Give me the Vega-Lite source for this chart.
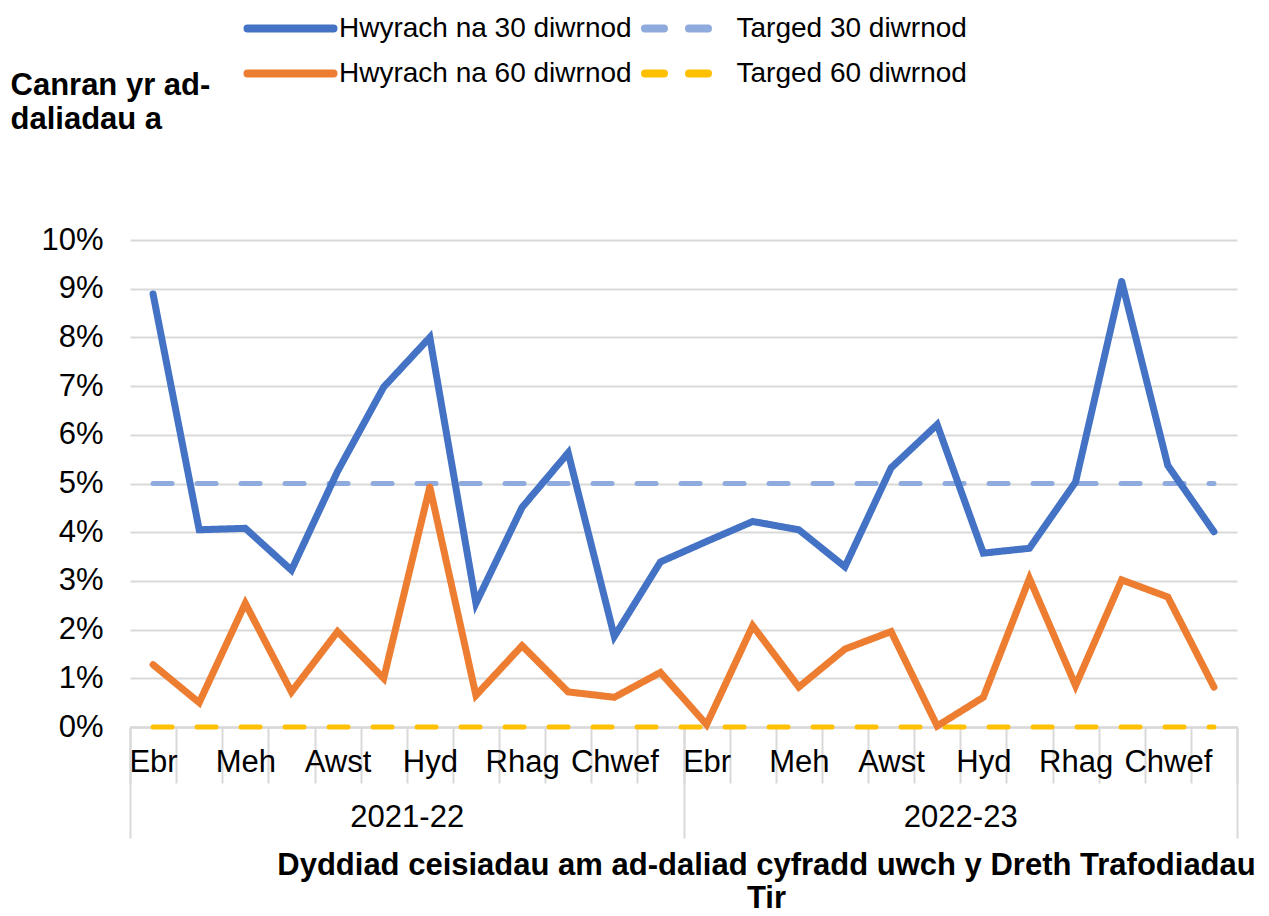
{
"$schema":"https://vega.github.io/schema/vega-lite/v6.json",
"width":1107,"height":487,
"autosize":{"type":"none"},
"padding":{"left":130,"top":240,"right":32,"bottom":189},
"background":"white",
"config":{"font":"Liberation Sans","view":{"stroke":null}},
"data":{"values":[
{"m":"2021-04","yr":"2021-22","s":"Hwyrach na 30 diwrnod","v":8.89},{"m":"2021-04","yr":"2021-22","s":"Hwyrach na 60 diwrnod","v":1.28},{"m":"2021-04","yr":"2021-22","s":"Targed 30 diwrnod","v":5},{"m":"2021-04","yr":"2021-22","s":"Targed 60 diwrnod","v":0},
{"m":"2021-05","yr":"2021-22","s":"Hwyrach na 30 diwrnod","v":4.05},{"m":"2021-05","yr":"2021-22","s":"Hwyrach na 60 diwrnod","v":0.5},{"m":"2021-05","yr":"2021-22","s":"Targed 30 diwrnod","v":5},{"m":"2021-05","yr":"2021-22","s":"Targed 60 diwrnod","v":0},
{"m":"2021-06","yr":"2021-22","s":"Hwyrach na 30 diwrnod","v":4.08},{"m":"2021-06","yr":"2021-22","s":"Hwyrach na 60 diwrnod","v":2.54},{"m":"2021-06","yr":"2021-22","s":"Targed 30 diwrnod","v":5},{"m":"2021-06","yr":"2021-22","s":"Targed 60 diwrnod","v":0},
{"m":"2021-07","yr":"2021-22","s":"Hwyrach na 30 diwrnod","v":3.22},{"m":"2021-07","yr":"2021-22","s":"Hwyrach na 60 diwrnod","v":0.72},{"m":"2021-07","yr":"2021-22","s":"Targed 30 diwrnod","v":5},{"m":"2021-07","yr":"2021-22","s":"Targed 60 diwrnod","v":0},
{"m":"2021-08","yr":"2021-22","s":"Hwyrach na 30 diwrnod","v":5.25},{"m":"2021-08","yr":"2021-22","s":"Hwyrach na 60 diwrnod","v":1.96},{"m":"2021-08","yr":"2021-22","s":"Targed 30 diwrnod","v":5},{"m":"2021-08","yr":"2021-22","s":"Targed 60 diwrnod","v":0},
{"m":"2021-09","yr":"2021-22","s":"Hwyrach na 30 diwrnod","v":6.98},{"m":"2021-09","yr":"2021-22","s":"Hwyrach na 60 diwrnod","v":1.0},{"m":"2021-09","yr":"2021-22","s":"Targed 30 diwrnod","v":5},{"m":"2021-09","yr":"2021-22","s":"Targed 60 diwrnod","v":0},
{"m":"2021-10","yr":"2021-22","s":"Hwyrach na 30 diwrnod","v":8.0},{"m":"2021-10","yr":"2021-22","s":"Hwyrach na 60 diwrnod","v":4.93},{"m":"2021-10","yr":"2021-22","s":"Targed 30 diwrnod","v":5},{"m":"2021-10","yr":"2021-22","s":"Targed 60 diwrnod","v":0},
{"m":"2021-11","yr":"2021-22","s":"Hwyrach na 30 diwrnod","v":2.54},{"m":"2021-11","yr":"2021-22","s":"Hwyrach na 60 diwrnod","v":0.65},{"m":"2021-11","yr":"2021-22","s":"Targed 30 diwrnod","v":5},{"m":"2021-11","yr":"2021-22","s":"Targed 60 diwrnod","v":0},
{"m":"2021-12","yr":"2021-22","s":"Hwyrach na 30 diwrnod","v":4.51},{"m":"2021-12","yr":"2021-22","s":"Hwyrach na 60 diwrnod","v":1.67},{"m":"2021-12","yr":"2021-22","s":"Targed 30 diwrnod","v":5},{"m":"2021-12","yr":"2021-22","s":"Targed 60 diwrnod","v":0},
{"m":"2022-01","yr":"2021-22","s":"Hwyrach na 30 diwrnod","v":5.63},{"m":"2022-01","yr":"2021-22","s":"Hwyrach na 60 diwrnod","v":0.72},{"m":"2022-01","yr":"2021-22","s":"Targed 30 diwrnod","v":5},{"m":"2022-01","yr":"2021-22","s":"Targed 60 diwrnod","v":0},
{"m":"2022-02","yr":"2021-22","s":"Hwyrach na 30 diwrnod","v":1.86},{"m":"2022-02","yr":"2021-22","s":"Hwyrach na 60 diwrnod","v":0.61},{"m":"2022-02","yr":"2021-22","s":"Targed 30 diwrnod","v":5},{"m":"2022-02","yr":"2021-22","s":"Targed 60 diwrnod","v":0},
{"m":"2022-03","yr":"2021-22","s":"Hwyrach na 30 diwrnod","v":3.39},{"m":"2022-03","yr":"2021-22","s":"Hwyrach na 60 diwrnod","v":1.12},{"m":"2022-03","yr":"2021-22","s":"Targed 30 diwrnod","v":5},{"m":"2022-03","yr":"2021-22","s":"Targed 60 diwrnod","v":0},
{"m":"2022-04","yr":"2022-23","s":"Hwyrach na 30 diwrnod","v":3.81},{"m":"2022-04","yr":"2022-23","s":"Hwyrach na 60 diwrnod","v":0.05},{"m":"2022-04","yr":"2022-23","s":"Targed 30 diwrnod","v":5},{"m":"2022-04","yr":"2022-23","s":"Targed 60 diwrnod","v":0},
{"m":"2022-05","yr":"2022-23","s":"Hwyrach na 30 diwrnod","v":4.22},{"m":"2022-05","yr":"2022-23","s":"Hwyrach na 60 diwrnod","v":2.08},{"m":"2022-05","yr":"2022-23","s":"Targed 30 diwrnod","v":5},{"m":"2022-05","yr":"2022-23","s":"Targed 60 diwrnod","v":0},
{"m":"2022-06","yr":"2022-23","s":"Hwyrach na 30 diwrnod","v":4.05},{"m":"2022-06","yr":"2022-23","s":"Hwyrach na 60 diwrnod","v":0.82},{"m":"2022-06","yr":"2022-23","s":"Targed 30 diwrnod","v":5},{"m":"2022-06","yr":"2022-23","s":"Targed 60 diwrnod","v":0},
{"m":"2022-07","yr":"2022-23","s":"Hwyrach na 30 diwrnod","v":3.29},{"m":"2022-07","yr":"2022-23","s":"Hwyrach na 60 diwrnod","v":1.6},{"m":"2022-07","yr":"2022-23","s":"Targed 30 diwrnod","v":5},{"m":"2022-07","yr":"2022-23","s":"Targed 60 diwrnod","v":0},
{"m":"2022-08","yr":"2022-23","s":"Hwyrach na 30 diwrnod","v":5.32},{"m":"2022-08","yr":"2022-23","s":"Hwyrach na 60 diwrnod","v":1.96},{"m":"2022-08","yr":"2022-23","s":"Targed 30 diwrnod","v":5},{"m":"2022-08","yr":"2022-23","s":"Targed 60 diwrnod","v":0},
{"m":"2022-09","yr":"2022-23","s":"Hwyrach na 30 diwrnod","v":6.21},{"m":"2022-09","yr":"2022-23","s":"Hwyrach na 60 diwrnod","v":0.02},{"m":"2022-09","yr":"2022-23","s":"Targed 30 diwrnod","v":5},{"m":"2022-09","yr":"2022-23","s":"Targed 60 diwrnod","v":0},
{"m":"2022-10","yr":"2022-23","s":"Hwyrach na 30 diwrnod","v":3.57},{"m":"2022-10","yr":"2022-23","s":"Hwyrach na 60 diwrnod","v":0.61},{"m":"2022-10","yr":"2022-23","s":"Targed 30 diwrnod","v":5},{"m":"2022-10","yr":"2022-23","s":"Targed 60 diwrnod","v":0},
{"m":"2022-11","yr":"2022-23","s":"Hwyrach na 30 diwrnod","v":3.67},{"m":"2022-11","yr":"2022-23","s":"Hwyrach na 60 diwrnod","v":3.05},{"m":"2022-11","yr":"2022-23","s":"Targed 30 diwrnod","v":5},{"m":"2022-11","yr":"2022-23","s":"Targed 60 diwrnod","v":0},
{"m":"2022-12","yr":"2022-23","s":"Hwyrach na 30 diwrnod","v":5.03},{"m":"2022-12","yr":"2022-23","s":"Hwyrach na 60 diwrnod","v":0.85},{"m":"2022-12","yr":"2022-23","s":"Targed 30 diwrnod","v":5},{"m":"2022-12","yr":"2022-23","s":"Targed 60 diwrnod","v":0},
{"m":"2023-01","yr":"2022-23","s":"Hwyrach na 30 diwrnod","v":9.15},{"m":"2023-01","yr":"2022-23","s":"Hwyrach na 60 diwrnod","v":3.02},{"m":"2023-01","yr":"2022-23","s":"Targed 30 diwrnod","v":5},{"m":"2023-01","yr":"2022-23","s":"Targed 60 diwrnod","v":0},
{"m":"2023-02","yr":"2022-23","s":"Hwyrach na 30 diwrnod","v":5.37},{"m":"2023-02","yr":"2022-23","s":"Hwyrach na 60 diwrnod","v":2.67},{"m":"2023-02","yr":"2022-23","s":"Targed 30 diwrnod","v":5},{"m":"2023-02","yr":"2022-23","s":"Targed 60 diwrnod","v":0},
{"m":"2023-03","yr":"2022-23","s":"Hwyrach na 30 diwrnod","v":4.01},{"m":"2023-03","yr":"2022-23","s":"Hwyrach na 60 diwrnod","v":0.82},{"m":"2023-03","yr":"2022-23","s":"Targed 30 diwrnod","v":5},{"m":"2023-03","yr":"2022-23","s":"Targed 60 diwrnod","v":0}
]},
"layer":[
{
"encoding":{
"x":{"field":"m","type":"ordinal","scale":{"type":"band","paddingInner":0,"paddingOuter":0},
"axis":{"title":null,"orient":"bottom","offset":0,"domain":true,"domainColor":"#D9D9D9","domainWidth":2,"ticks":true,"tickBand":"extent","tickSize":56,"tickColor":"#D9D9D9","tickWidth":2,"grid":false,"labelAngle":0,"labelOverlap":false,"labelFontSize":31,"labelColor":"#000000","labelPadding":-36,
"labelExpr":"slice(''+datum.value,5)=='04'?'Ebr':slice(''+datum.value,5)=='06'?'Meh':slice(''+datum.value,5)=='08'?'Awst':slice(''+datum.value,5)=='10'?'Hyd':slice(''+datum.value,5)=='12'?'Rhag':slice(''+datum.value,5)=='02'?'Chwef':''"}},
"y":{"field":"v","type":"quantitative","scale":{"domain":[0,10],"nice":false},
"axis":{"title":["Canran yr ad-","daliadau a"],"titleAngle":0,"titleAlign":"left","titleBaseline":"top","titleX":-120,"titleY":-170,"titleFontSize":31,"titleFontWeight":"bold","titleLineHeight":34,"titleColor":"#000000",
"values":[0,1,2,3,4,5,6,7,8,9,10],"labelExpr":"datum.value + '%'","labelFontSize":31,"labelColor":"#000000","labelPadding":27,"domain":false,"ticks":false,"grid":true,"gridColor":"#D9D9D9","gridWidth":2}},
"color":{"field":"s","type":"nominal",
"scale":{"domain":["Hwyrach na 30 diwrnod","Targed 30 diwrnod","Hwyrach na 60 diwrnod","Targed 60 diwrnod"],"range":["#4472C4","#8FAADC","#ED7D31","#FFC000"]},
"legend":{"title":null,"orient":"none","legendX":134.5,"legendY":-237.5,"direction":"horizontal","columns":2,"symbolType":"M-2,0H2","symbolSize":1850,"symbolStrokeWidth":8,"labelFontSize":28,"labelColor":"#000000","labelOffset":22.5,"columnPadding":-4.5,"rowPadding":3,"labelLimit":400,"encode":{"symbols":{"update":{"strokeCap":{"value":"round"}}}}}},
"strokeDash":{"field":"s","type":"nominal",
"scale":{"domain":["Hwyrach na 30 diwrnod","Targed 30 diwrnod","Hwyrach na 60 diwrnod","Targed 60 diwrnod"],"range":[[1,0],[19,25],[1,0],[19,25]]},
"legend":{"title":null,"orient":"none","legendX":134.5,"legendY":-237.5,"direction":"horizontal","columns":2,"symbolType":"M-2,0H2","symbolSize":1850,"symbolStrokeWidth":8,"labelFontSize":28,"labelColor":"#000000","labelOffset":22.5,"columnPadding":-4.5,"rowPadding":3,"labelLimit":400,"encode":{"symbols":{"update":{"strokeCap":{"value":"round"}}}}}}
},
"layer":[
{"transform":[{"filter":"indexof(datum.s,'Targed')==0"}],"mark":{"type":"line","strokeWidth":5,"strokeCap":"round"}},
{"transform":[{"filter":"indexof(datum.s,'Hwyrach')==0"}],"mark":{"type":"line","strokeWidth":7,"strokeCap":"round","strokeJoin":"miter"}}
]
},
{
"mark":{"type":"point","opacity":0},
"encoding":{
"x":{"field":"yr","type":"ordinal","scale":{"type":"band","paddingInner":0,"paddingOuter":0},
"axis":{"orient":"bottom","offset":0,"domain":true,"domainColor":"#D9D9D9","domainWidth":2,"ticks":true,"tickBand":"extent","tickSize":111,"tickColor":"#D9D9D9","tickWidth":2,"grid":false,"labelAngle":0,"labelFontSize":31,"labelColor":"#000000","labelPadding":-36,
"title":["Dyddiad ceisiadau am ad-daliad cyfradd uwch y Dreth Trafodiadau","Tir"],"titleX":636,"titleY":123,"titleBaseline":"top","titleAlign":"center","titleFontSize":31,"titleFontWeight":"bold","titleLineHeight":33,"titleColor":"#000000"}}
}
}
],
"resolve":{"scale":{"x":"independent"}}
}
